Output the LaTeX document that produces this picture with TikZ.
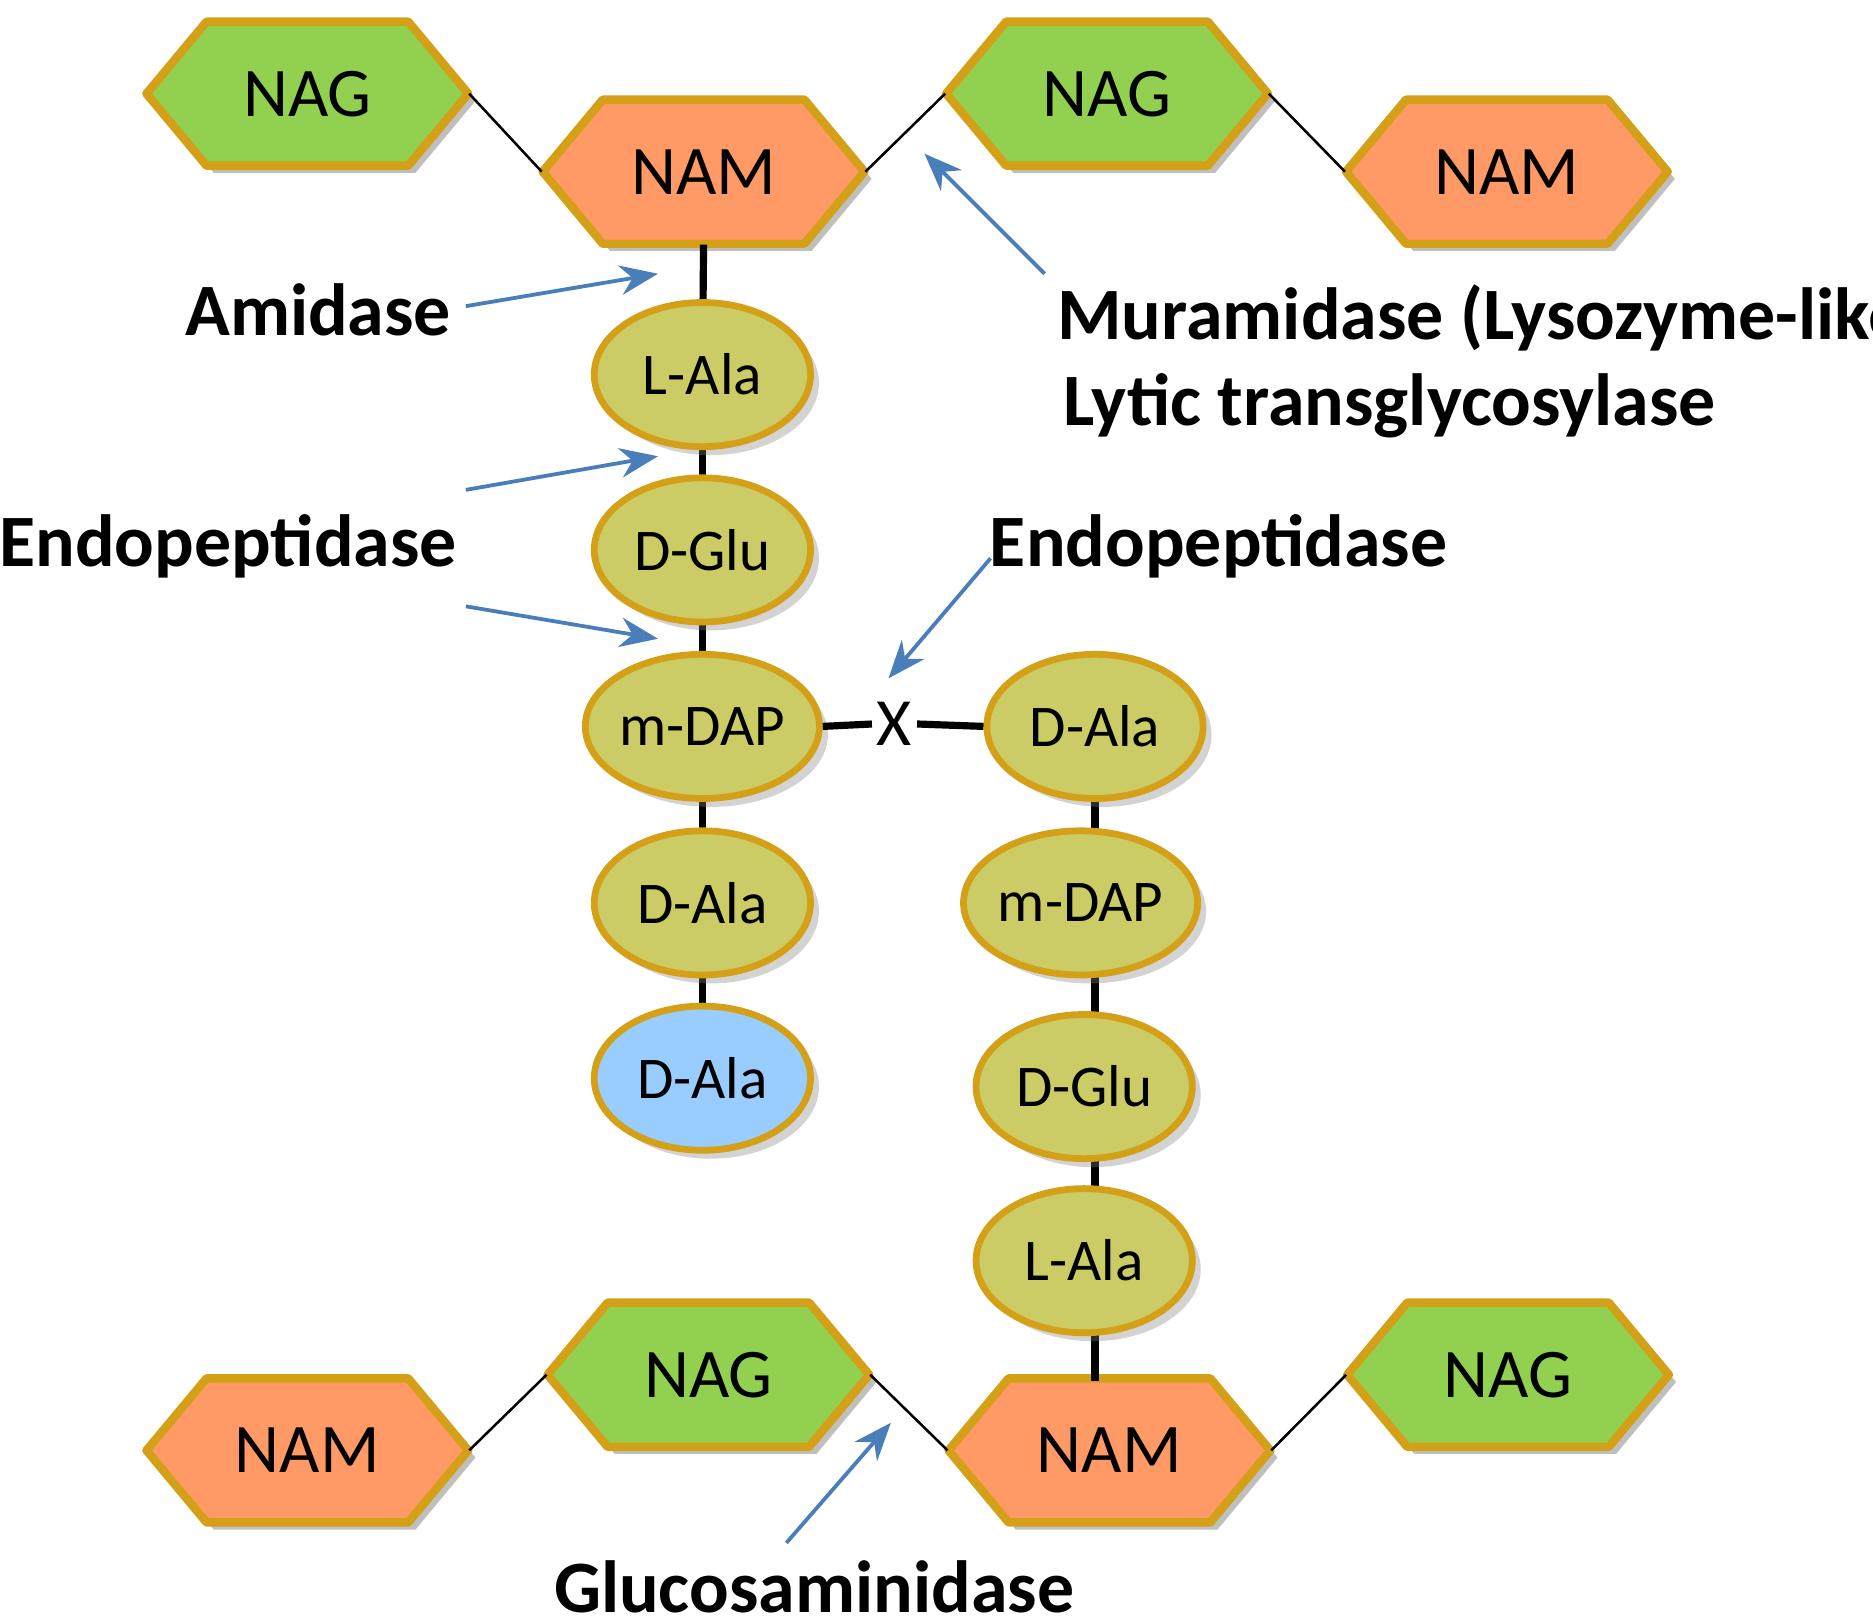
\documentclass[tikz,border=0pt]{standalone}
\usepackage{fontspec}
\setmainfont{Carlito}
\usetikzlibrary{shapes.geometric,shadows,arrows.meta}
\definecolor{nag}{HTML}{92D050}
\definecolor{nam}{HTML}{FF9966}
\definecolor{rim}{HTML}{D4A017}
\definecolor{aa}{HTML}{CCCC66}
\definecolor{aablue}{HTML}{99CCFF}
\definecolor{arr}{HTML}{4A7EBB}
\tikzset{
  hex/.style={draw=rim,line width=2pt,line join=round},
  hexlbl/.style={inner sep=0,minimum width=2.68cm,minimum height=1.2cm,font=\fontsize{16.5}{18}\selectfont},
  aa/.style={ellipse,draw=rim,line width=1.6pt,fill=aa,minimum width=1.8cm,minimum height=1.2cm,inner sep=0,font=\fontsize{14}{16}\selectfont,drop shadow={shadow xshift=2pt,shadow yshift=-2pt,opacity=0.35}},
  link/.style={line width=0.6pt},
  bond/.style={line width=1.7pt},
  enz/.style={-{Stealth[length=9pt,width=7pt]},draw=arr,line width=0.9pt},
  lbl/.style={font=\bfseries\fontsize{17.5}{20}\selectfont,inner sep=0}
}
\newcommand\hexnode[5]{%
  \fill[black,opacity=0.25] (#2-128,#3+6) -- (#2-78,#3-54) -- (#2+90,#3-54) -- (#2+140,#3+6) -- (#2+90,#3+66) -- (#2-78,#3+66) -- cycle;
  \draw[hex,fill=#4] (#2-134,#3) -- (#2-84,#3-60) -- (#2+84,#3-60) -- (#2+134,#3) -- (#2+84,#3+60) -- (#2-84,#3+60) -- cycle;
  \node[hexlbl] (#1) at (#2,#3) {#5};}
\begin{document}
\begin{tikzpicture}[x=0.01cm,y=-0.01cm]
\useasboundingbox (0,0) rectangle (1560,1351);
\hexnode{nagA}{256}{78}{nag}{NAG}
\hexnode{namA}{586}{143}{nam}{NAM}
\hexnode{nagB}{922}{78}{nag}{NAG}
\hexnode{namB}{1255}{143}{nam}{NAM}
\hexnode{namC}{256}{1208}{nam}{NAM}
\hexnode{nagC}{590}{1145}{nag}{NAG}
\hexnode{namD}{924}{1208}{nam}{NAM}
\hexnode{nagD}{1256}{1145}{nag}{NAG}
\draw[link] (nagA.east) -- (namA.west);
\draw[link] (namA.east) -- (nagB.west);
\draw[link] (nagB.east) -- (namB.west);
\draw[link] (namC.east) -- (nagC.west);
\draw[link] (nagC.east) -- (namD.west);
\draw[link] (namD.east) -- (nagD.west);
\draw[bond] (namA.south) -- (585,312);
\draw[bond] (585,312) -- (585,898);
\draw[bond] (912,605) -- (912,1150);
\node[aa] (l1) at (585,312) {L-Ala};
\node[aa] (l2) at (585,458) {D-Glu};
\node[aa] (l3) at (585,605) {m-DAP};
\node[aa] (l4) at (585,752) {D-Ala};
\node[aa,fill=aablue] (l5) at (585,898) {D-Ala};
\node[aa] (r1) at (912,605) {D-Ala};
\node[aa] (r2) at (900,752) {m-DAP};
\node[aa] (r3) at (903,905) {D-Glu};
\node[aa] (r4) at (903,1050) {L-Ala};
\node[font=\fontsize{16}{18}\selectfont,inner sep=1pt] (x) at (745,603) {X};
\draw[bond] (l3.east) -- (x.west); \draw[bond] (x.east) -- (r1.west);
\node[lbl] (ami) at (265,258) {Amidase};
\node[lbl] (endoL) at (190,455) {Endopeptidase};
\node[lbl] (endoR) at (1015,455) {Endopeptidase};
\node[lbl,anchor=west] (mur) at (880,265) {Muramidase (Lysozyme-like)};
\node[lbl,anchor=west] (lyt) at (885,338) {Lytic transglycosylase};
\node[lbl] (glu) at (678,1322) {Glucosaminidase};
\coordinate (tA) at (548,228); \coordinate (tB) at (548,380); \coordinate (tC) at (548,532);
\coordinate (tD) at (740,565); \coordinate (tE) at (770,128); \coordinate (tF) at (742,1185);
\draw[enz] (388,255) -- (tA);
\draw[enz] (388,408) -- (tB);
\draw[enz] (388,505) -- (tC);
\draw[enz] (825,465) -- (tD);
\draw[enz] (870,228) -- (tE);
\draw[enz] (655,1285) -- (tF);
\end{tikzpicture}
\end{document}
